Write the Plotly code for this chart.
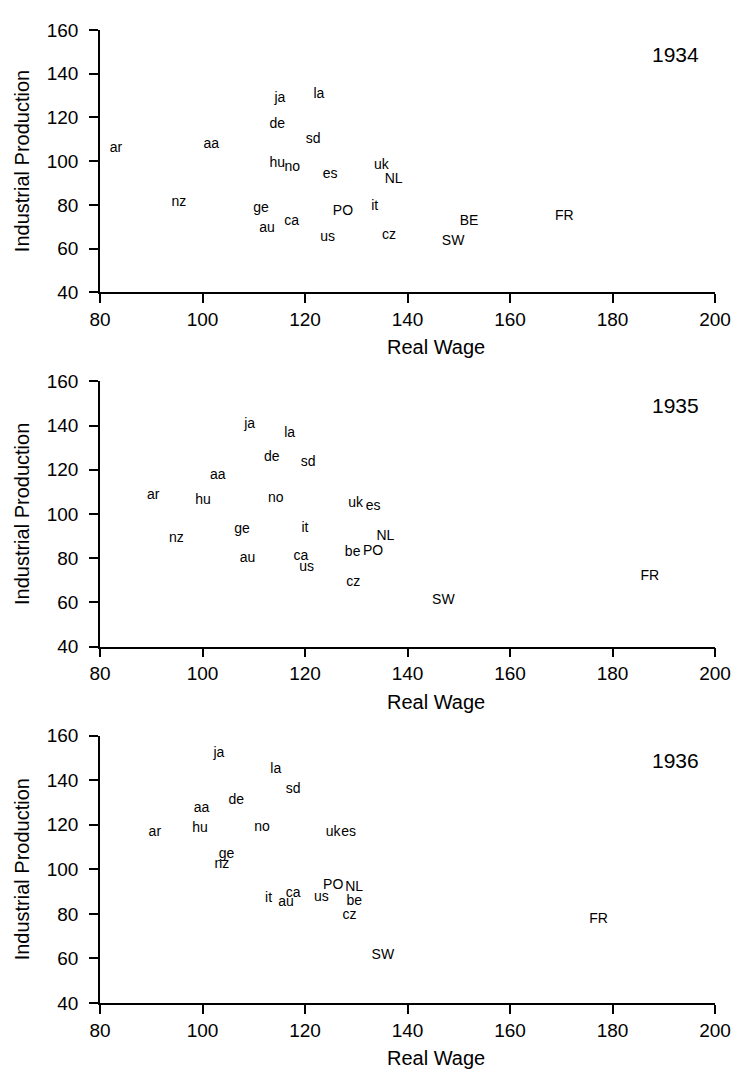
import plotly.graph_objects as go

# ---- data ----
years = ["1934", "1935", "1936"]

labels_1934 = ["ar", "aa", "nz", "ja", "la", "de", "sd", "hu", "no", "es", "uk", "NL",
               "it", "ge", "au", "ca", "PO", "us", "cz", "BE", "SW", "FR"]
wage_1934 = [83.1, 101.7, 95.4, 115.1, 122.7, 114.6, 121.6, 114.6, 117.5, 124.9, 134.9, 137.3,
             133.6, 111.4, 112.6, 117.4, 127.4, 124.4, 136.4, 152.0, 148.9, 170.6]
prod_1934 = [105.8, 107.6, 81.2, 128.5, 130.4, 117.0, 109.9, 99.1, 97.2, 93.7, 97.9, 91.5,
             79.3, 78.5, 69.1, 72.5, 77.0, 65.1, 65.8, 72.5, 63.1, 74.8]

labels_1935 = ["ja", "la", "de", "sd", "aa", "ar", "hu", "no", "uk", "es", "ge", "it",
               "nz", "NL", "be", "PO", "au", "ca", "us", "cz", "SW", "FR"]
wage_1935 = [109.2, 117.0, 113.5, 120.6, 103.0, 90.4, 100.1, 114.3, 129.9, 133.3, 107.7, 120.0,
             94.9, 135.7, 129.3, 133.3, 108.8, 119.2, 120.3, 129.4, 147.0, 187.3]
prod_1935 = [140.3, 136.6, 125.4, 123.4, 117.5, 108.5, 106.3, 107.0, 104.8, 103.6, 92.8, 93.3,
             89.1, 89.9, 82.7, 83.1, 79.9, 80.9, 75.7, 69.0, 60.7, 71.6]

labels_1936 = ["ja", "la", "sd", "de", "aa", "ar", "hu", "no", "uk", "es", "ge", "nz",
               "PO", "NL", "be", "ca", "au", "it", "us", "cz", "SW", "FR"]
wage_1936 = [103.2, 114.3, 117.7, 106.6, 99.8, 90.7, 99.5, 111.6, 125.5, 128.5, 104.7, 103.8,
             125.5, 129.6, 129.6, 117.7, 116.3, 112.9, 123.2, 128.7, 135.2, 177.3]
prod_1936 = [152.2, 145.0, 136.0, 130.7, 127.3, 116.5, 118.4, 119.0, 116.5, 116.5, 106.7, 102.2,
             92.7, 91.7, 85.7, 89.0, 84.9, 86.9, 87.2, 79.2, 61.4, 77.4]

x_ticks = [80, 100, 120, 140, 160, 180, 200]
y_ticks = [40, 60, 80, 100, 120, 140, 160]
x_title = "Real Wage"
y_title = "Industrial Production"

panels = [
    (labels_1934, wage_1934, prod_1934),
    (labels_1935, wage_1935, prod_1935),
    (labels_1936, wage_1936, prod_1936),
]

# ---- layout geometry (page body has an 8px margin) ----
W, H = 735, 1065
FONT = "Liberation Sans, Arial, Helvetica, sans-serif"
domains = [[0.7304, 1.0], [0.3662, 0.6389], [0.0, 0.2747]]

fig = go.Figure()
layout = dict(
    width=W, height=H,
    margin=dict(l=92, r=19, t=12, b=70),
    paper_bgcolor="white", plot_bgcolor="white",
    showlegend=False,
    font=dict(family=FONT, color="black"),
)
annotations = []

for i, (labs, xs, ys) in enumerate(panels):
    n = "" if i == 0 else str(i + 1)
    fig.add_trace(go.Scatter(
        x=xs, y=ys, text=labs, mode="text",
        textposition="middle center",
        textfont=dict(family=FONT, size=14, color="black"),
        xaxis="x" + n, yaxis="y" + n, hoverinfo="text",
        cliponaxis=False,
    ))
    axis_common = dict(
        showline=True, linecolor="black", linewidth=1.5,
        ticks="outside", ticklen=9, tickwidth=1.5, tickcolor="black",
        showgrid=False, zeroline=False, mirror=False,
        tickfont=dict(family=FONT, size=19, color="black"),
        fixedrange=True,
    )
    layout["xaxis" + n] = dict(axis_common, range=[80, 200], tickvals=x_ticks,
                               anchor="y" + n, domain=[0, 1])
    layout["yaxis" + n] = dict(axis_common, range=[40, 160], tickvals=y_ticks,
                               anchor="x" + n, domain=domains[i], ticklabelstandoff=7)
    # year label
    annotations.append(dict(
        x=192.2, y=149, xref="x" + n, yref="y" + n, text=years[i],
        showarrow=False, font=dict(family=FONT, size=21, color="black"),
        xanchor="center", yanchor="middle",
    ))
    # x title
    annotations.append(dict(
        x=145.6, y=0, xref="x" + n, yref="y" + n + " domain", text=x_title,
        showarrow=False, font=dict(family=FONT, size=20, color="black"),
        xanchor="center", yanchor="middle", yshift=-55,
    ))
    # y title
    annotations.append(dict(
        x=0, y=0.5, xref="x" + n + " domain", yref="y" + n + " domain", text=y_title,
        showarrow=False, font=dict(family=FONT, size=20, color="black"),
        xanchor="center", yanchor="middle", xshift=-78, textangle=-90,
    ))

layout["annotations"] = annotations
fig.update_layout(**layout)
fig.write_html("out.html")
